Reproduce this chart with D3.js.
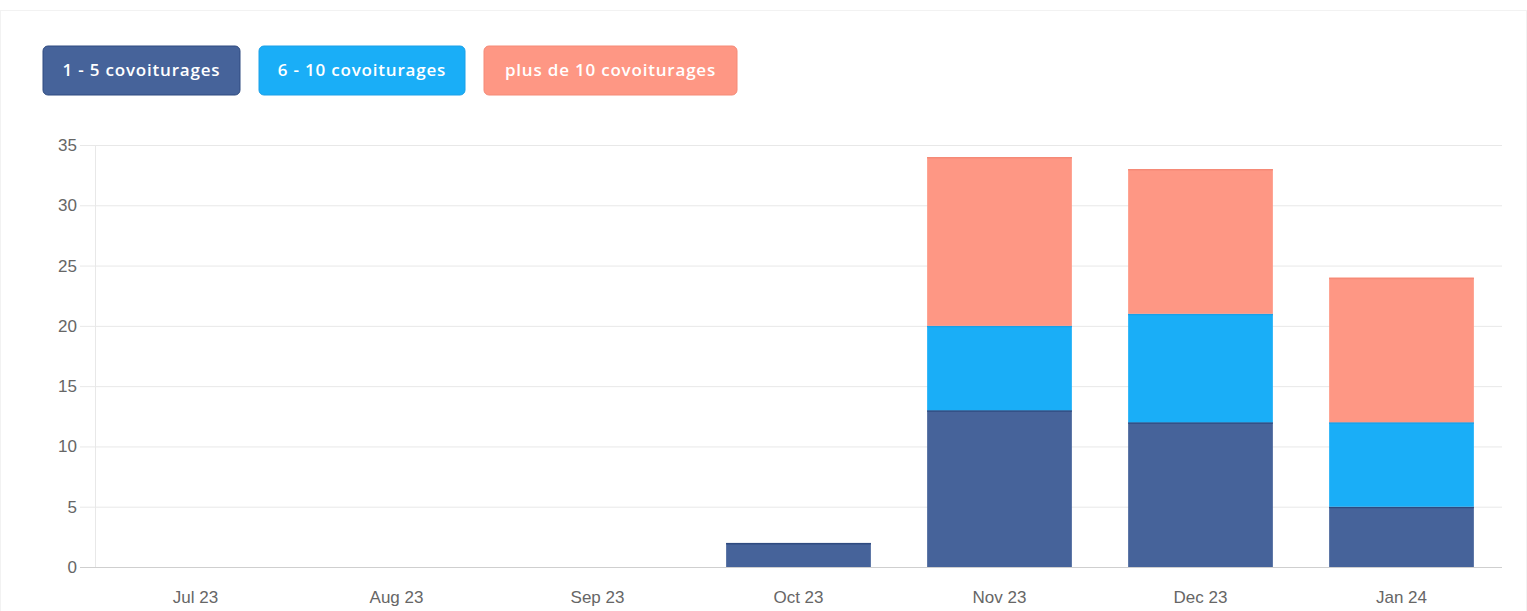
<!DOCTYPE html>
<html>
<head>
<meta charset="utf-8">
<script src="https://cdn.jsdelivr.net/npm/d3@7"></script>
<style>
  body { margin: 0; background: #fff; }
  #container { width: 1527px; height: 611px; }
</style>
</head>
<body>
<div id="container"></div>
<script>
let months = ["Jul 23", "Aug 23", "Sep 23", "Oct 23", "Nov 23", "Dec 23", "Jan 24"];
let seriesNames = ["1 - 5 covoiturages", "6 - 10 covoiturages", "plus de 10 covoiturages"];
let small = [0, 0, 0, 2, 13, 12, 5];
let medium = [0, 0, 0, 0, 7, 9, 7];
let large = [0, 0, 0, 0, 14, 12, 12];
let yTicks = [0, 5, 10, 15, 20, 25, 30, 35];

let colors = ["#46639a", "#1aaef7", "#fe9784"];
let strokes = ["#2f4b80", "#1aa0e8", "#f58a77"];

let w = 1527;
let h = 611;
let padLeft = 95, padRight = 1502, padTop = 145, padBottom = 567;

let viz = d3.select("#container")
  .append("svg")
  .attr("width", w)
  .attr("height", h)
  .style("font-family", "'Liberation Sans', Arial, sans-serif");

// faint panel border
viz.append("rect")
  .attr("x", 0.5).attr("y", 10.5)
  .attr("width", w - 1).attr("height", h)
  .attr("fill", "none").attr("stroke", "#f2f2f2");

// legend buttons
let legendX = [43, 259, 484];
let legendW = [197, 206, 253];
let legend = viz.append("g").attr("class", "legend");
seriesNames.forEach(function (name, i) {
  let g = legend.append("g").attr("transform", "translate(" + legendX[i] + ",46)");
  g.append("rect")
    .attr("width", legendW[i]).attr("height", 49)
    .attr("rx", 5)
    .attr("fill", colors[i])
    .attr("stroke", strokes[i]);
  g.append("text")
    .attr("x", legendW[i] / 2).attr("y", 30)
    .attr("text-anchor", "middle")
    .attr("fill", "#fff")
    .style("font-family", "'Open Sans', 'Noto Sans', sans-serif")
    .style("font-weight", "600")
    .style("font-size", "17px")
    .style("letter-spacing", "0.8px")
    .text(name);
});

let xScale = d3.scaleBand().domain(months).range([padLeft, padRight]).paddingInner(0.28).paddingOuter(0.14);
let yScale = d3.scaleLinear().domain([0, 35]).range([padBottom, padTop]);

// grid
let yAxis = d3.axisLeft(yScale).tickValues(yTicks).tickSize(-(padRight - padLeft)).tickPadding(6);
let yAxisGroup = viz.append("g")
  .attr("class", "yaxisgroup")
  .attr("transform", "translate(" + padLeft + ",0)")
  .call(yAxis);
yAxisGroup.select(".domain").remove();
yAxisGroup.selectAll(".tick line").attr("stroke", "#e8e8e8").attr("x1", -15);
yAxisGroup.selectAll(".tick text")
  .attr("x", -18)
  .attr("fill", "#666")
  .style("font-size", "17px");

viz.append("line")
  .attr("x1", padLeft + 0.5).attr("x2", padLeft + 0.5)
  .attr("y1", padTop).attr("y2", padBottom)
  .attr("stroke", "#e8e8e8");

// stacked bars
let table = months.map(function (m, i) {
  return { month: m, s0: small[i], s1: medium[i], s2: large[i] };
});
let stack = d3.stack().keys(["s0", "s1", "s2"]);
let stacked = stack(table);

let graphGroup = viz.append("g").attr("class", "graphGroup");
stacked.forEach(function (layer, k) {
  let nonEmpty = layer.filter(function (d) { return d[1] - d[0] > 0; });
  graphGroup.selectAll(".bar" + k)
    .data(nonEmpty)
    .enter()
    .append("rect")
    .attr("class", "bar" + k)
    .attr("fill", colors[k])
    .attr("x", function (d) { return xScale(d.data.month); })
    .attr("width", xScale.bandwidth())
    .attr("y", function (d) { return yScale(d[1]); })
    .attr("height", function (d) { return yScale(d[0]) - yScale(d[1]); });
  graphGroup.selectAll(".edge" + k)
    .data(nonEmpty)
    .enter()
    .append("line")
    .attr("class", "edge" + k)
    .attr("stroke", strokes[k])
    .attr("stroke-width", 1.5)
    .attr("x1", function (d) { return xScale(d.data.month); })
    .attr("x2", function (d) { return xScale(d.data.month) + xScale.bandwidth(); })
    .attr("y1", function (d) { return yScale(d[1]) + 0.75; })
    .attr("y2", function (d) { return yScale(d[1]) + 0.75; });
});

// x axis
let xAxis = d3.axisBottom(xScale).tickSize(0).tickPadding(24);
let xAxisGroup = viz.append("g")
  .attr("class", "xaxisgroup")
  .attr("transform", "translate(0," + padBottom + ")")
  .call(xAxis);
xAxisGroup.select(".domain").attr("stroke", "#cfcfcf").attr("d", "M" + (padLeft - 15) + ",0.5H" + padRight);
xAxisGroup.selectAll(".tick text")
  .attr("fill", "#666")
  .style("font-size", "17px");
</script>
</body>
</html>
